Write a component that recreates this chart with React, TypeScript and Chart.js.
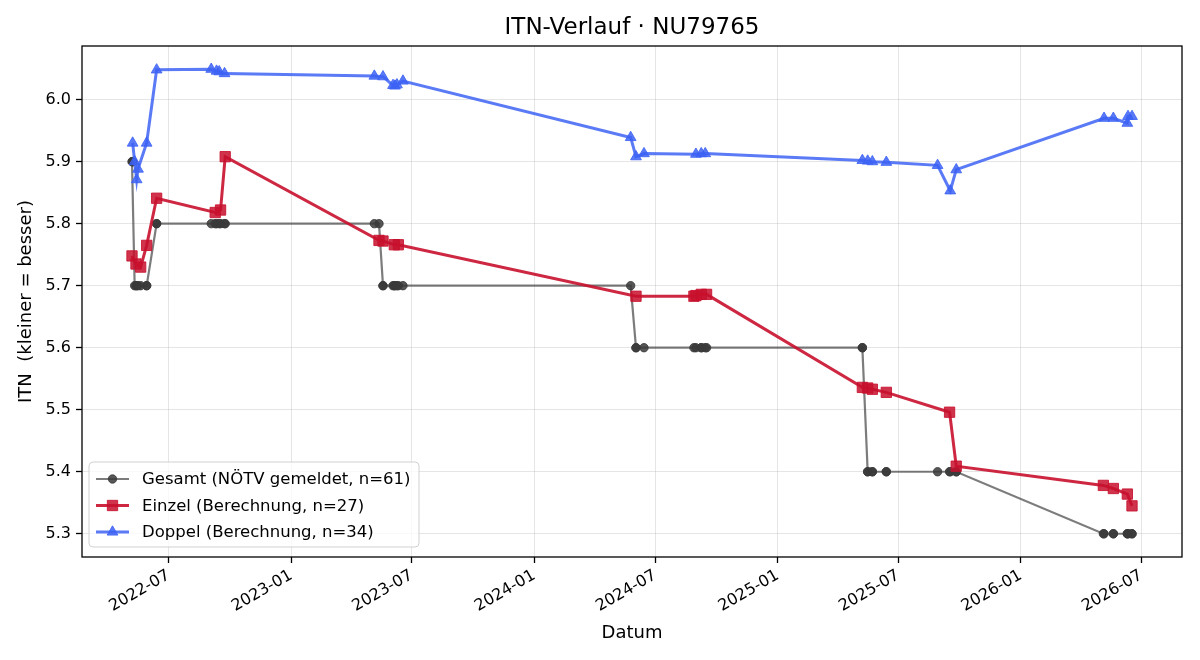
import React, { useEffect, useRef } from 'react';
import { Chart, registerables } from 'chart.js';

Chart.register(...registerables);

// ---------- data ----------
const gesamtDates = [
  '2022-05-07', '2022-05-08', '2022-05-08', '2022-05-11', '2022-05-13', '2022-05-14', '2022-05-16',
  '2022-05-20', '2022-05-29', '2022-05-29', '2022-06-13', '2022-06-13', '2022-09-03', '2022-09-09',
  '2022-09-11', '2022-09-15', '2022-09-17', '2022-09-23', '2022-09-24',
  '2023-05-06', '2023-05-13', '2023-05-19', '2023-05-19', '2023-06-03', '2023-06-05', '2023-06-06',
  '2023-06-09', '2023-06-11', '2023-06-18',
  '2024-05-25', '2024-06-02', '2024-06-02', '2024-06-14', '2024-08-28', '2024-08-31', '2024-09-08',
  '2024-09-08', '2024-09-14', '2024-09-16',
  '2025-05-08', '2025-05-08', '2025-05-16', '2025-05-16', '2025-05-23', '2025-05-23', '2025-06-13',
  '2025-06-13', '2025-08-29', '2025-09-16', '2025-09-17', '2025-09-26', '2025-09-26',
  '2026-05-05', '2026-05-06', '2026-05-20', '2026-05-20', '2026-06-10', '2026-06-10', '2026-06-11',
  '2026-06-17', '2026-06-17',
];
const gesamtValues = [
  5.9, 5.9, 5.9, 5.7, 5.7, 5.7, 5.7,
  5.7, 5.7, 5.7, 5.8, 5.8, 5.8, 5.8,
  5.8, 5.8, 5.8, 5.8, 5.8,
  5.8, 5.8, 5.7, 5.7, 5.7, 5.7, 5.7,
  5.7, 5.7, 5.7,
  5.7, 5.6, 5.6, 5.6, 5.6, 5.6, 5.6,
  5.6, 5.6, 5.6,
  5.6, 5.6, 5.4, 5.4, 5.4, 5.4, 5.4,
  5.4, 5.4, 5.4, 5.4, 5.4, 5.4,
  5.3, 5.3, 5.3, 5.3, 5.3, 5.3, 5.3,
  5.3, 5.3,
];

const einzelDates = [
  '2022-05-07', '2022-05-13', '2022-05-20', '2022-05-29', '2022-06-13', '2022-09-09', '2022-09-17',
  '2022-09-24', '2023-05-13', '2023-05-19', '2023-06-05', '2023-06-11', '2024-06-02', '2024-08-28',
  '2024-08-31', '2024-09-08', '2024-09-16', '2025-05-08', '2025-05-16', '2025-05-23', '2025-06-13',
  '2025-09-16', '2025-09-26', '2026-05-05', '2026-05-20', '2026-06-10', '2026-06-17',
];
const einzelValues = [
  5.748, 5.735, 5.730, 5.765, 5.841, 5.818, 5.822,
  5.908, 5.773, 5.772, 5.766, 5.766, 5.683, 5.683,
  5.684, 5.686, 5.686, 5.536, 5.535, 5.533, 5.528,
  5.496, 5.409, 5.378, 5.373, 5.364, 5.345,
];

const doppelDates = [
  '2022-05-08', '2022-05-11', '2022-05-14', '2022-05-16', '2022-05-29', '2022-06-13', '2022-09-03',
  '2022-09-11', '2022-09-15', '2022-09-23', '2023-05-06', '2023-05-19', '2023-06-03', '2023-06-06',
  '2023-06-09', '2023-06-18', '2024-05-25', '2024-06-02', '2024-06-14', '2024-08-31', '2024-09-08',
  '2024-09-14', '2025-05-08', '2025-05-16', '2025-05-23', '2025-06-13', '2025-08-29', '2025-09-17',
  '2025-09-26', '2026-05-06', '2026-05-20', '2026-06-10', '2026-06-11', '2026-06-17',
];
const doppelValues = [
  5.930, 5.900, 5.871, 5.888, 5.930, 6.048, 6.049,
  6.046, 6.045, 6.042, 6.038, 6.037, 6.023, 6.022,
  6.024, 6.030, 5.939, 5.908, 5.913, 5.912, 5.913,
  5.913, 5.902, 5.901, 5.900, 5.899, 5.894, 5.853,
  5.887, 5.970, 5.970, 5.962, 5.973, 5.973,
];

const xTickDates = [
  '2022-07-01', '2023-01-01', '2023-07-01', '2024-01-01', '2024-07-01',
  '2025-01-01', '2025-07-01', '2026-01-01', '2026-07-01',
];
const yTickValues = [5.3, 5.4, 5.5, 5.6, 5.7, 5.8, 5.9, 6.0];

const legendLabels = [
  'Gesamt (NÖTV gemeldet, n=61)',
  'Einzel (Berechnung, n=27)',
  'Doppel (Berechnung, n=34)',
];
const titleText = 'ITN-Verlauf · NU79765';
const xTitle = 'Datum';
const yTitle = 'ITN  (kleiner = besser)';

// ---------- helpers ----------
const ts = (s: string) => {
  const [y, m, d] = s.split('-').map(Number);
  return Date.UTC(y, m - 1, d);
};
const toPoints = (dates: string[], vals: number[]) => dates.map((d, i) => ({ x: ts(d), y: vals[i] }));

const allX = [...gesamtDates, ...einzelDates, ...doppelDates].map(ts);
const allY = [...gesamtValues, ...einzelValues, ...doppelValues];
const xLo = Math.min(...allX), xHi = Math.max(...allX);
const yLo = Math.min(...allY), yHi = Math.max(...allY);
const xMin = xLo - (xHi - xLo) * 0.05, xMax = xHi + (xHi - xLo) * 0.05;
const yMin = yLo - (yHi - yLo) * 0.05, yMax = yHi + (yHi - yLo) * 0.05;

const FONT = '"DejaVu Sans", "Liberation Sans", sans-serif';

const GRAY_LINE = 'rgba(68,68,68,0.7)';
const GRAY_PT = 'rgba(58,58,58,0.85)';
const RED_LINE = 'rgba(200,16,46,0.9)';
const RED_PT = 'rgba(200,16,46,0.85)';
const BLUE_LINE = 'rgba(61,99,245,0.85)';
const BLUE_PT = 'rgba(61,99,245,0.85)';

const styles = [
  { line: GRAY_LINE, pt: GRAY_PT, width: 2.2, shape: 'circle', r: 4.2 },
  { line: RED_LINE, pt: RED_PT, width: 3, shape: 'rect', r: 7.3 },
  { line: BLUE_LINE, pt: BLUE_PT, width: 3, shape: 'triangle', r: 6.2 },
];

function drawMarker(ctx: CanvasRenderingContext2D, shape: string, x: number, y: number, r: number, color: string) {
  ctx.save();
  ctx.fillStyle = color;
  ctx.strokeStyle = color;
  ctx.lineWidth = 1;
  ctx.beginPath();
  if (shape === 'circle') {
    ctx.arc(x, y, r, 0, Math.PI * 2);
  } else if (shape === 'rect') {
    const s = r * Math.SQRT1_2;
    ctx.rect(x - s, y - s, 2 * s, 2 * s);
  } else {
    ctx.moveTo(x, y - r);
    ctx.lineTo(x + r * Math.sin((2 * Math.PI) / 3), y - r * Math.cos((2 * Math.PI) / 3));
    ctx.lineTo(x + r * Math.sin((4 * Math.PI) / 3), y - r * Math.cos((4 * Math.PI) / 3));
    ctx.closePath();
  }
  ctx.fill();
  ctx.stroke();
  ctx.restore();
}

const decorPlugin = {
  id: 'decor',
  afterDraw(chart: any) {
    const ctx: CanvasRenderingContext2D = chart.ctx;
    const a = chart.chartArea;
    ctx.save();
    // frame
    ctx.strokeStyle = '#000';
    ctx.lineWidth = 1.3;
    ctx.strokeRect(a.left, a.top, a.right - a.left, a.bottom - a.top);
    // title
    ctx.fillStyle = '#000';
    ctx.textAlign = 'center';
    ctx.textBaseline = 'middle';
    ctx.font = `23px ${FONT}`;
    ctx.fillText(titleText, (a.left + a.right) / 2, 28);
    // axis titles
    ctx.font = `18px ${FONT}`;
    ctx.fillText(xTitle, (a.left + a.right) / 2, 633);
    ctx.save();
    ctx.translate(26, (a.top + a.bottom) / 2);
    ctx.rotate(-Math.PI / 2);
    ctx.fillText(yTitle, 0, 0);
    ctx.restore();
    // legend
    const lx = a.left + 7, ly = a.bottom - 95, lw = 330, lh = 85, rr = 4;
    ctx.beginPath();
    ctx.moveTo(lx + rr, ly);
    ctx.lineTo(lx + lw - rr, ly);
    ctx.quadraticCurveTo(lx + lw, ly, lx + lw, ly + rr);
    ctx.lineTo(lx + lw, ly + lh - rr);
    ctx.quadraticCurveTo(lx + lw, ly + lh, lx + lw - rr, ly + lh);
    ctx.lineTo(lx + rr, ly + lh);
    ctx.quadraticCurveTo(lx, ly + lh, lx, ly + lh - rr);
    ctx.lineTo(lx, ly + rr);
    ctx.quadraticCurveTo(lx, ly, lx + rr, ly);
    ctx.closePath();
    ctx.fillStyle = 'rgba(255,255,255,0.8)';
    ctx.fill();
    ctx.strokeStyle = 'rgba(204,204,204,0.9)';
    ctx.lineWidth = 1;
    ctx.stroke();
    ctx.font = `16.5px ${FONT}`;
    ctx.textAlign = 'left';
    ctx.textBaseline = 'middle';
    legendLabels.forEach((lab, i) => {
      const st = styles[i];
      const cy = ly + 17 + i * 26.5;
      ctx.strokeStyle = st.line;
      ctx.lineWidth = st.width;
      ctx.beginPath();
      ctx.moveTo(lx + 7, cy);
      ctx.lineTo(lx + 40, cy);
      ctx.stroke();
      drawMarker(ctx, st.shape, lx + 23.5, cy, st.r, st.pt);
      ctx.fillStyle = '#000';
      ctx.fillText(lab, lx + 53, cy + 1);
    });
    ctx.restore();
  },
};

const fmtMonth = (v: number) => {
  const d = new Date(v);
  const m = d.getUTCMonth() + 1;
  return `${d.getUTCFullYear()}-${m < 10 ? '0' + m : m}`;
};

export default function App() {
  const ref = useRef<HTMLCanvasElement | null>(null);
  useEffect(() => {
    document.body.style.margin = '0';
    Chart.defaults.font.family = FONT;
    const canvas = ref.current!;
    const series = [
      { label: legendLabels[0], data: toPoints(gesamtDates, gesamtValues), order: 3, st: styles[0] },
      { label: legendLabels[1], data: toPoints(einzelDates, einzelValues), order: 2, st: styles[1] },
      { label: legendLabels[2], data: toPoints(doppelDates, doppelValues), order: 1, st: styles[2] },
    ];
    const chart = new Chart(canvas, {
      type: 'line',
      data: {
        datasets: series.map((s) => ({
          label: s.label,
          data: s.data,
          order: s.order,
          borderColor: s.st.line,
          borderWidth: s.st.width,
          backgroundColor: s.st.pt,
          pointBackgroundColor: s.st.pt,
          pointBorderColor: s.st.pt,
          pointBorderWidth: 1,
          pointStyle: s.st.shape as any,
          pointRadius: s.st.r,
          tension: 0,
          fill: false,
        })),
      },
      options: {
        responsive: false,
        animation: false,
        events: [],
        layout: { padding: { top: 46, right: 18, left: 0, bottom: 0 } },
        plugins: {
          legend: { display: false },
          tooltip: { enabled: false },
          title: { display: false },
        },
        scales: {
          x: {
            type: 'linear',
            min: xMin,
            max: xMax,
            afterBuildTicks: (s: any) => {
              s.ticks = xTickDates.map((d) => ({ value: ts(d) }));
            },
            afterFit: (s: any) => {
              s.height = 103;
            },
            ticks: {
              autoSkip: false,
              minRotation: 30,
              maxRotation: 30,
              padding: 3,
              color: '#000',
              font: { size: 16 },
              callback: (v: any) => fmtMonth(Number(v)),
            },
            grid: { color: 'rgba(176,176,176,0.33)', lineWidth: 1, tickColor: '#000', tickLength: 6, tickWidth: 1.3 },
            border: { display: false },
          },
          y: {
            type: 'linear',
            min: yMin,
            max: yMax,
            afterBuildTicks: (s: any) => {
              s.ticks = yTickValues.map((v) => ({ value: v }));
            },
            afterFit: (s: any) => {
              s.width = 82;
            },
            ticks: {
              padding: 5,
              color: '#000',
              font: { size: 16 },
              callback: (v: any) => Number(v).toFixed(1),
            },
            grid: { color: 'rgba(176,176,176,0.33)', lineWidth: 1, tickColor: '#000', tickLength: 6, tickWidth: 1.3 },
            border: { display: false },
          },
        },
      },
      plugins: [decorPlugin],
    });
    return () => chart.destroy();
  }, []);
  return (
    <div style={{ width: 1200, height: 660, background: '#fff' }}>
      <canvas ref={ref} width={1200} height={660} style={{ display: 'block' }} />
    </div>
  );
}
